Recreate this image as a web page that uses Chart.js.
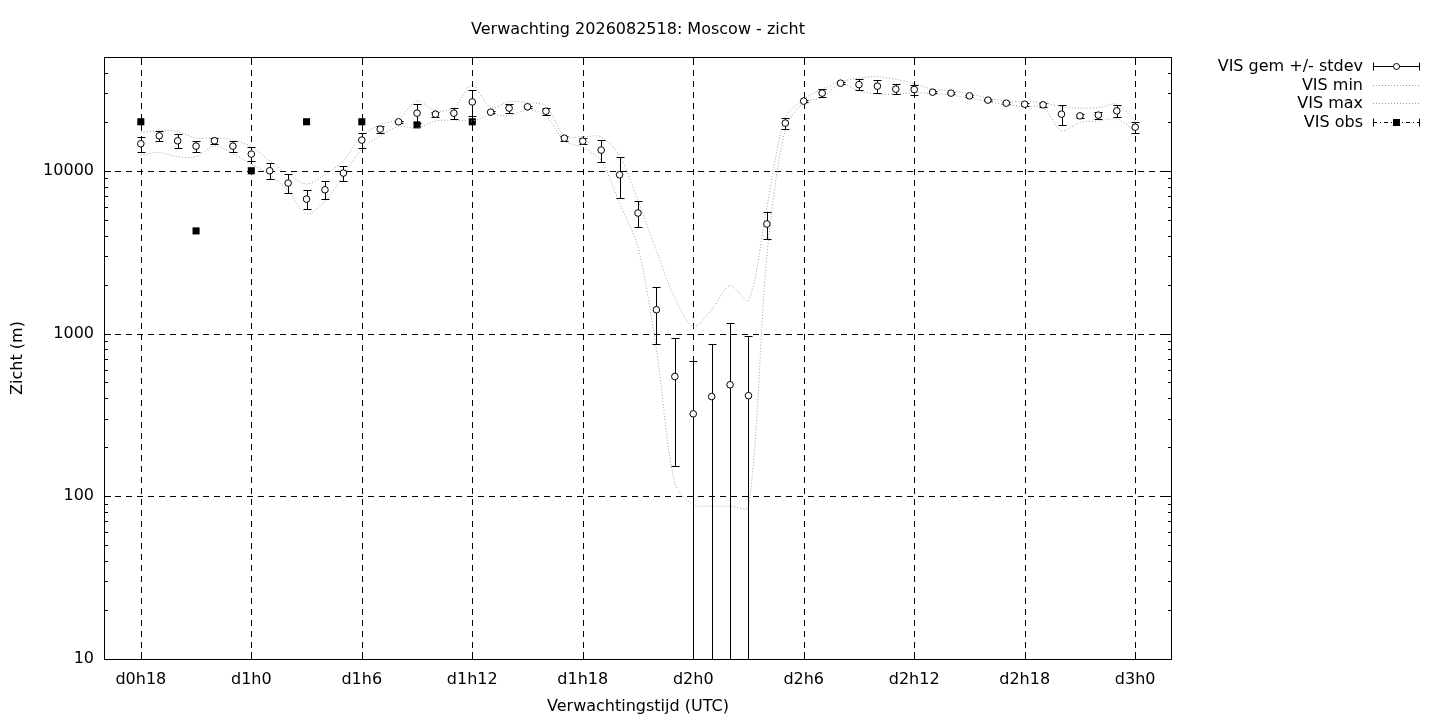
<!DOCTYPE html>
<html><head><meta charset="utf-8">
<script src="https://cdn.jsdelivr.net/npm/chart.js@4.4.1/dist/chart.umd.min.js"></script>
<style>html,body{margin:0;padding:0;background:#fff;} #wrap{width:1440px;height:720px;position:relative;}</style>
</head><body><div id="wrap"><canvas id="c"></canvas></div>
<script>
const hours = [18,19,20,21,22,23,24,25,26,27,28,29,30,31,32,33,34,35,36,37,38,39,40,41,42,43,44,45,46,47,48,49,50,51,52,53,54,55,56,57,58,59,60,61,62,63,64,65,66,67,68,69,70,71,72];
const meanVis = [14650,16400,15280,14170,15280,14170,12660,10000,8400,6700,7640,9680,15430,18030,19980,22590,22280,22590,26480,22910,24260,24720,23220,15860,15200,13400,9450,5500,1400,544,321,410,484,415,4710,19630,26780,29990,34520,33830,33100,31730,31570,30400,29990,28850,27170,26020,25640,25410,22280,21740,21970,23330,18530];
const stdevVis = [1520,1120,1520,1040,590,1110,1240,1150,1140,910,950,1010,1600,850,300,3050,830,1670,4780,400,1610,400,1210,540,670,2030,2620,980,537,390,352,455,679,553,896,1600,500,1740,600,2690,3050,2310,2260,500,400,400,400,400,500,600,3130,500,1040,1970,1540];
const minVis = [12480,12950,12180,12180,14230,12770,10990,9450,7540,5430,6480,9320,13590,16400,18700,18290,20200,20480,20200,22060,21740,23620,21740,15280,13900,11520,6300,3400,800,120,89,87,87,86,3000,18030,26220,28170,34040,30960,29560,29560,30210,29760,29200,27900,26620,25410,24800,24430,17600,19840,20200,20760,17600];
const maxVis = [17180,17600,17420,15870,16000,15430,14040,11520,9540,8290,9450,11520,16400,19140,20760,26880,23330,24430,33500,24430,26620,26220,25000,16400,16170,16170,12360,6550,3230,1650,1100,1400,1970,1600,6000,21230,27540,31730,35280,37070,37800,36520,34300,31730,30960,29760,27900,26880,26480,26220,24720,24260,24430,25640,20200];
const obsHours = [18,21,24,27,30,33,36];
const obsVis = [20000,4270,10000,20000,20000,19140,20000];
const xTickHours = [18,24,30,36,42,48,54,60,66,72];
const xTickLabels = ['d0h18','d1h0','d1h6','d1h12','d1h18','d2h0','d2h6','d2h12','d2h18','d3h0'];
const yTicks = [10,100,1000,10000];
const yMinorTicks = [20,30,40,50,60,70,80,90,200,300,400,500,600,700,800,900,2000,3000,4000,5000,6000,7000,8000,9000,20000,30000,40000];
const titleText = 'Verwachting 2026082518: Moscow - zicht';
const xTitle = 'Verwachtingstijd (UTC)';
const yTitle = 'Zicht (m)';
const legendLabels = ['VIS gem +/- stdev','VIS min','VIS max','VIS obs'];

const FONT = '16px "DejaVu Sans"';
const GREY = '#a0a0a0';

const custom = {
  id: 'custom',
  beforeDatasetsDraw(chart) {
    const {ctx, chartArea: a, scales: {x, y}} = chart;
    ctx.save();
    ctx.strokeStyle = '#000'; ctx.lineWidth = 1; ctx.setLineDash([6, 5]);
    xTickHours.forEach(h => {
      const px = Math.round(x.getPixelForValue(h)) + 0.5;
      ctx.beginPath(); ctx.moveTo(px, a.bottom); ctx.lineTo(px, a.top); ctx.stroke();
    });
    yTicks.forEach(v => {
      const py = Math.round(y.getPixelForValue(v)) + 0.5;
      ctx.beginPath(); ctx.moveTo(a.left, py); ctx.lineTo(a.right, py); ctx.stroke();
    });
    ctx.restore();
  },
  beforeDatasetDraw(chart, args) {
    if (args.index !== 0) return;
    const {ctx, chartArea: a, scales: {x, y}} = chart;
    ctx.save();
    ctx.beginPath(); ctx.rect(a.left, a.top, a.right - a.left, a.bottom - a.top); ctx.clip();
    ctx.strokeStyle = '#000'; ctx.lineWidth = 1; ctx.setLineDash([]);
    for (let i = 0; i < hours.length; i++) {
      const px = Math.round(x.getPixelForValue(hours[i])) + 0.5;
      const hiV = meanVis[i] + stdevVis[i], loV = meanVis[i] - stdevVis[i];
      const hi = Math.round(y.getPixelForValue(hiV)) + 0.5;
      const loOk = loV > 0 && y.getPixelForValue(loV) < a.bottom;
      const lo = loOk ? Math.round(y.getPixelForValue(loV)) + 0.5 : a.bottom + 2;
      ctx.beginPath(); ctx.moveTo(px, lo); ctx.lineTo(px, hi); ctx.stroke();
      ctx.beginPath(); ctx.moveTo(px - 4, hi); ctx.lineTo(px + 4, hi); ctx.stroke();
      if (loOk) { ctx.beginPath(); ctx.moveTo(px - 4, lo); ctx.lineTo(px + 4, lo); ctx.stroke(); }
    }
    ctx.restore();
  },
  afterDraw(chart) {
    const {ctx, chartArea: a, scales: {x, y}} = chart;
    ctx.save();
    ctx.setLineDash([]); ctx.strokeStyle = '#000'; ctx.lineWidth = 1;
    ctx.strokeRect(a.left + 0.5, a.top + 0.5, a.right - a.left - 1, a.bottom - a.top);
    xTickHours.forEach(h => {
      const px = Math.round(x.getPixelForValue(h)) + 0.5;
      ctx.beginPath(); ctx.moveTo(px, a.bottom); ctx.lineTo(px, a.bottom - 7);
      ctx.moveTo(px, a.top); ctx.lineTo(px, a.top + 7); ctx.stroke();
    });
    yTicks.forEach(v => {
      const py = Math.round(y.getPixelForValue(v)) + 0.5;
      ctx.beginPath(); ctx.moveTo(a.left, py); ctx.lineTo(a.left + 7, py);
      ctx.moveTo(a.right, py); ctx.lineTo(a.right - 7, py); ctx.stroke();
    });
    yMinorTicks.forEach(v => {
      const py = Math.round(y.getPixelForValue(v)) + 0.5;
      ctx.beginPath(); ctx.moveTo(a.left, py); ctx.lineTo(a.left + 4, py);
      ctx.moveTo(a.right, py); ctx.lineTo(a.right - 4, py); ctx.stroke();
    });
    ctx.fillStyle = '#000'; ctx.font = FONT;
    ctx.textAlign = 'center'; ctx.textBaseline = 'middle';
    const cx = (a.left + a.right) / 2;
    ctx.fillText(titleText, cx, 30);
    ctx.fillText(xTitle, cx, 707);
    ctx.save(); ctx.translate(18, (a.top + a.bottom) / 2); ctx.rotate(-Math.PI / 2);
    ctx.fillText(yTitle, 0, 0); ctx.restore();
    const rows = [66, 84.5, 103, 121.5];
    const lx0 = 1373, lx1 = 1420, lxm = 1396.5;
    ctx.textAlign = 'right';
    legendLabels.forEach((t, i) => ctx.fillText(t, 1363, rows[i] + 1));
    let ry = Math.round(rows[0]) + 0.5;
    ctx.beginPath(); ctx.moveTo(lx0, ry); ctx.lineTo(lx1, ry);
    ctx.moveTo(lx0 + 0.5, ry - 4); ctx.lineTo(lx0 + 0.5, ry + 4);
    ctx.moveTo(lx1 - 0.5, ry - 4); ctx.lineTo(lx1 - 0.5, ry + 4); ctx.stroke();
    ctx.beginPath(); ctx.arc(lxm, ry, 3, 0, Math.PI * 2); ctx.fillStyle = '#fff'; ctx.fill(); ctx.stroke();
    ctx.strokeStyle = GREY; ctx.setLineDash([1, 2]);
    [1, 2].forEach(i => { const yy = Math.round(rows[i]) + 0.5; ctx.beginPath(); ctx.moveTo(lx0, yy); ctx.lineTo(lx1, yy); ctx.stroke(); });
    ctx.strokeStyle = '#000';
    ry = Math.round(rows[3]) + 0.5;
    ctx.setLineDash([4, 3, 1, 3]);
    ctx.beginPath(); ctx.moveTo(lx0, ry); ctx.lineTo(lx1, ry); ctx.stroke();
    ctx.setLineDash([]);
    ctx.beginPath();
    ctx.moveTo(lx0 + 0.5, ry - 4); ctx.lineTo(lx0 + 0.5, ry + 4);
    ctx.moveTo(lx1 - 0.5, ry - 4); ctx.lineTo(lx1 - 0.5, ry + 4); ctx.stroke();
    ctx.fillStyle = '#000'; ctx.fillRect(lxm - 3.5, ry - 3.5, 7, 7);
    ctx.restore();
  }
};

const toXY = (xs, ys) => xs.map((h, i) => ({x: h, y: ys[i]}));

new Chart(document.getElementById('c'), {
  type: 'scatter',
  data: {
    datasets: [
      {label: legendLabels[0], data: toXY(hours, meanVis), showLine: false, pointStyle: 'circle', pointRadius: 3.3, pointBorderWidth: 1, pointBackgroundColor: '#fff', pointBorderColor: '#000', pointHoverRadius: 3.3},
      {label: legendLabels[1], data: toXY(hours, minVis), showLine: true, pointRadius: 0, borderColor: GREY, borderWidth: 1, borderDash: [1, 2], tension: 0.3, fill: false},
      {label: legendLabels[2], data: toXY(hours, maxVis), showLine: true, pointRadius: 0, borderColor: GREY, borderWidth: 1, borderDash: [1, 2], tension: 0.3, fill: false},
      {label: legendLabels[3], data: toXY(obsHours, obsVis), showLine: false, pointStyle: 'rect', pointRadius: 5, pointBackgroundColor: '#000', pointBorderColor: '#000', pointBorderWidth: 0, pointHoverRadius: 5}
    ]
  },
  options: {
    responsive: true, maintainAspectRatio: false, animation: false, devicePixelRatio: 1,
    layout: {padding: {top: 57, right: 268, left: 0, bottom: 0}},
    plugins: {legend: {display: false}, title: {display: false}, tooltip: {enabled: false}},
    events: [],
    scales: {
      x: {
        type: 'linear', min: 16, max: 74,
        grid: {display: false, drawTicks: false}, border: {display: false},
        afterBuildTicks: s => { s.ticks = xTickHours.map(v => ({value: v})); },
        afterFit: s => { s.height = 61; },
        ticks: {padding: 11, color: '#000', font: {family: 'DejaVu Sans', size: 16}, maxRotation: 0, autoSkip: false,
          callback: (v) => { const i = xTickHours.indexOf(v); return i >= 0 ? xTickLabels[i] : ''; }}
      },
      y: {
        type: 'logarithmic', min: 10, max: 50000,
        grid: {display: false, drawTicks: false}, border: {display: false},
        afterBuildTicks: s => { s.ticks = yTicks.map(v => ({value: v})); },
        afterFit: s => { s.width = 104; },
        ticks: {padding: 10, color: '#000', font: {family: 'DejaVu Sans', size: 16}, autoSkip: false,
          callback: (v) => String(v)}
      }
    }
  },
  plugins: [custom]
});
</script>
</body></html>
